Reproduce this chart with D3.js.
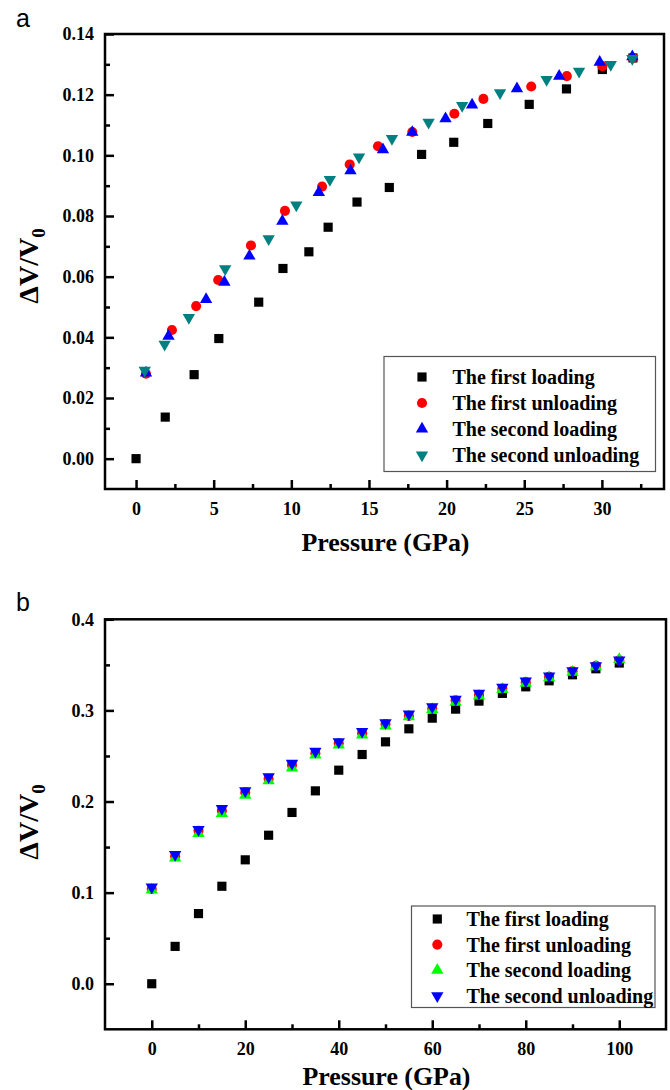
<!DOCTYPE html>
<html>
<head>
<meta charset="utf-8">
<script src="https://cdn.jsdelivr.net/npm/d3@7"></script>
<style>
  html, body { margin: 0; padding: 0; background: #fff; }
  svg { display: block; }
</style>
</head>
<body>
<svg id="chart" width="670" height="1090"></svg>
<script>
// ---------- Panel a data ----------
const seriesNames = ["The first loading", "The first unloading", "The second loading", "The second unloading"];

const aFirstLoadP   = [0, 1.88, 3.74, 5.33, 7.9, 9.46, 11.13, 12.37, 14.23, 16.31, 18.39, 20.46, 22.65, 25.32, 27.72, 30.03, 32.0];
const aFirstLoadV   = [0, 0.0137, 0.0277, 0.0396, 0.0516, 0.0627, 0.0682, 0.0763, 0.0846, 0.0894, 0.1003, 0.1043, 0.1105, 0.1168, 0.1219, 0.1283, 0.1321];
const aFirstUnloadP = [0.64, 2.31, 3.87, 5.29, 7.4, 9.59, 11.98, 13.76, 15.58, 17.79, 20.5, 22.37, 25.45, 27.74, 30.03, 32.0];
const aFirstUnloadV = [0.028, 0.0424, 0.0503, 0.0589, 0.0703, 0.0817, 0.0897, 0.097, 0.103, 0.1077, 0.1137, 0.1186, 0.1227, 0.1261, 0.1294, 0.1321];
const aSecondLoadP  = [0.64, 2.09, 4.51, 5.69, 7.3, 9.42, 11.77, 13.81, 15.9, 17.79, 19.93, 21.64, 24.53, 27.25, 29.86, 31.96];
const aSecondLoadV  = [0.0283, 0.0404, 0.0525, 0.0582, 0.0668, 0.0783, 0.0878, 0.0949, 0.1019, 0.1076, 0.1121, 0.1166, 0.1220, 0.1261, 0.1307, 0.1325];
const aSecondUnloadP = [0.56, 1.84, 3.4, 5.74, 8.54, 10.32, 12.48, 14.36, 16.48, 18.84, 21.0, 23.44, 26.44, 28.53, 30.57, 31.96];
const aSecondUnloadV = [0.0291, 0.0377, 0.0465, 0.0626, 0.0725, 0.0836, 0.0920, 0.0994, 0.1055, 0.1109, 0.1164, 0.1206, 0.1250, 0.1277, 0.1299, 0.1319];

const aXTicks = [0, 5, 10, 15, 20, 25, 30];
const aXMinor = [2.5, 7.5, 12.5, 17.5, 22.5, 27.5, 32.5];
const aYTicks = [0, 0.02, 0.04, 0.06, 0.08, 0.10, 0.12, 0.14];
const aYMinor = [0.01, 0.03, 0.05, 0.07, 0.09, 0.11, 0.13];

// ---------- Panel b data ----------
const bP = [0, 5, 10, 15, 20, 25, 30, 35, 40, 45, 50, 55, 60, 65, 70, 75, 80, 85, 90, 95, 100];
const bFirstLoadV    = [0, 0.041, 0.077, 0.107, 0.136, 0.163, 0.188, 0.2117, 0.2344, 0.2516, 0.2655, 0.2798, 0.2915, 0.3014, 0.3102, 0.3187, 0.3259, 0.3325, 0.3391, 0.3457, 0.352];
const bFirstUnloadV  = [0.104, 0.140, 0.168, 0.190, 0.210, 0.225, 0.240, 0.253, 0.264, 0.275, 0.285, 0.294, 0.302, 0.311, 0.317, 0.324, 0.331, 0.337, 0.343, 0.349, 0.355];
const bSecondLoadV   = [0.103, 0.138, 0.165, 0.187, 0.207, 0.223, 0.237, 0.251, 0.262, 0.273, 0.283, 0.293, 0.301, 0.309, 0.316, 0.323, 0.330, 0.336, 0.342, 0.348, 0.356];
const bSecondUnloadV = [0.106, 0.1418, 0.1692, 0.1923, 0.2117, 0.227, 0.2418, 0.255, 0.2655, 0.2769, 0.2864, 0.2959, 0.3040, 0.3121, 0.3187, 0.3253, 0.3322, 0.3377, 0.3435, 0.349, 0.3553];

const bXTicks = [0, 20, 40, 60, 80, 100];
const bXMinor = [10, 30, 50, 70, 90];
const bYTicks = [0, 0.1, 0.2, 0.3, 0.4];
const bYMinor = [0.05, 0.15, 0.25, 0.35];

// ---------- drawing ----------
const svg = d3.select("#chart");
const SERIF = "Liberation Serif";
const SANS = "Liberation Sans";

const SYM = {
  square: { type: d3.symbolSquare, size: 84, rot: 0 },
  circle: { type: d3.symbolCircle, size: 80, rot: 0 },
  up:     { type: d3.symbolTriangle, size: 66, rot: 0 },
  down:   { type: d3.symbolTriangle, size: 66, rot: 180 }
};

function styleAxis(sel, len) {
  sel.select(".domain").remove();
  sel.attr("font-family", SERIF).attr("font-size", 18).attr("font-weight", "bold");
  sel.selectAll("line").attr("stroke", "#000").attr("stroke-width", 2.5);
  sel.selectAll("text").attr("fill", "#000").attr("font-family", SERIF).attr("font-weight", "bold").attr("font-size", 18);
}

function drawPanel(cfg) {
  const x = d3.scaleLinear().domain(cfg.xDomain).range([cfg.left, cfg.right]);
  const y = d3.scaleLinear().domain(cfg.yDomain).range([cfg.bottom, cfg.top]);
  const g = svg.append("g");

  // minor ticks
  g.append("g").attr("transform", `translate(0,${cfg.bottom})`)
    .call(d3.axisBottom(x).tickValues(cfg.xMinor).tickSize(-5).tickFormat(""))
    .call(styleAxis);
  g.append("g").attr("transform", `translate(${cfg.left},0)`)
    .call(d3.axisLeft(y).tickValues(cfg.yMinor).tickSize(-5).tickFormat(""))
    .call(styleAxis);

  // major ticks
  g.append("g").attr("transform", `translate(0,${cfg.bottom})`)
    .call(d3.axisBottom(x).tickValues(cfg.xTicks).tickSize(-9).tickPadding(cfg.xPad).tickFormat(d3.format("d")))
    .call(styleAxis);
  g.append("g").attr("transform", `translate(${cfg.left},0)`)
    .call(d3.axisLeft(y).tickValues(cfg.yTicks).tickSize(-9).tickPadding(11).tickFormat(d3.format(cfg.yFmt)))
    .call(styleAxis);

  // frame
  g.append("rect")
    .attr("x", cfg.left).attr("y", cfg.top)
    .attr("width", cfg.right - cfg.left).attr("height", cfg.bottom - cfg.top)
    .attr("fill", "none").attr("stroke", "#000").attr("stroke-width", 2.5);

  // data
  cfg.series.forEach(s => {
    const sym = d3.symbol().type(SYM[s.shape].type).size(SYM[s.shape].size);
    g.append("g").selectAll("path")
      .data(s.p.map((p, i) => [p, s.v[i]]))
      .join("path")
      .attr("d", sym)
      .attr("transform", d => `translate(${x(d[0])},${y(d[1])}) rotate(${SYM[s.shape].rot})`)
      .attr("fill", s.color);
  });

  // legend
  const L = cfg.legend;
  g.append("rect").attr("x", L.x).attr("y", L.y).attr("width", L.w).attr("height", L.h)
    .attr("fill", "#fff").attr("stroke", "#555").attr("stroke-width", 1.2);
  cfg.series.forEach((s, i) => {
    const cy = L.row0 + i * L.dy;
    const sym = d3.symbol().type(SYM[s.shape].type).size(SYM[s.shape].size);
    g.append("path").attr("d", sym)
      .attr("transform", `translate(${L.sx},${cy}) rotate(${SYM[s.shape].rot})`)
      .attr("fill", s.color);
    g.append("text").attr("x", L.tx).attr("y", cy + 7)
      .attr("font-family", SERIF).attr("font-weight", "bold").attr("font-size", 20)
      .text(seriesNames[i]);
  });

  // axis titles
  g.append("text")
    .attr("x", (cfg.left + cfg.right) / 2 + 1).attr("y", cfg.xTitleY)
    .attr("text-anchor", "middle")
    .attr("font-family", SERIF).attr("font-weight", "bold").attr("font-size", 26)
    .attr("textLength", 168).attr("lengthAdjust", "spacingAndGlyphs")
    .text("Pressure (GPa)");

  const yt = g.append("text")
    .attr("transform", `translate(38,${cfg.yTitleC}) rotate(-90)`)
    .attr("text-anchor", "middle")
    .attr("font-family", SERIF).attr("font-weight", "bold").attr("font-size", 28);
  yt.append("tspan").text("\u0394V/V");
  yt.append("tspan").attr("dy", 7).attr("font-size", 19).text("0");

  // panel letter
  g.append("text").attr("x", cfg.letterX).attr("y", cfg.letterY)
    .attr("font-family", SANS).attr("font-size", 25)
    .text(cfg.letter);
}

drawPanel({
  left: 105, right: 664, top: 34, bottom: 489,
  xDomain: [-2, 34], yDomain: [-0.01, 0.14],
  xTicks: aXTicks, xMinor: aXMinor, yTicks: aYTicks, yMinor: aYMinor,
  yFmt: ".2f", xPad: 13.5,
  series: [
    { p: aFirstLoadP, v: aFirstLoadV, shape: "square", color: "#000000" },
    { p: aFirstUnloadP, v: aFirstUnloadV, shape: "circle", color: "#ff0000" },
    { p: aSecondLoadP, v: aSecondLoadV, shape: "up", color: "#0000ff" },
    { p: aSecondUnloadP, v: aSecondUnloadV, shape: "down", color: "#008080" }
  ],
  legend: { x: 384, y: 356.5, w: 271.5, h: 115, sx: 422, tx: 452.5, row0: 377, dy: 26 },
  xTitleY: 551, yTitleC: 266,
  letter: "a", letterX: 16, letterY: 27
});

drawPanel({
  left: 105, right: 666, top: 619.3, bottom: 1029.3,
  xDomain: [-10, 110], yDomain: [-0.05, 0.4],
  xTicks: bXTicks, xMinor: bXMinor, yTicks: bYTicks, yMinor: bYMinor,
  yFmt: ".1f", xPad: 12.5,
  series: [
    { p: bP, v: bFirstLoadV, shape: "square", color: "#000000" },
    { p: bP, v: bFirstUnloadV, shape: "circle", color: "#ff0000" },
    { p: bP, v: bSecondLoadV, shape: "up", color: "#00ff00" },
    { p: bP, v: bSecondUnloadV, shape: "down", color: "#0000ff" }
  ],
  legend: { x: 411.5, y: 906, w: 243.5, h: 101.5, sx: 437.3, tx: 466.5, row0: 919, dy: 25.6 },
  xTitleY: 1085, yTitleC: 822,
  letter: "b", letterX: 16, letterY: 611
});
</script>
</body>
</html>
